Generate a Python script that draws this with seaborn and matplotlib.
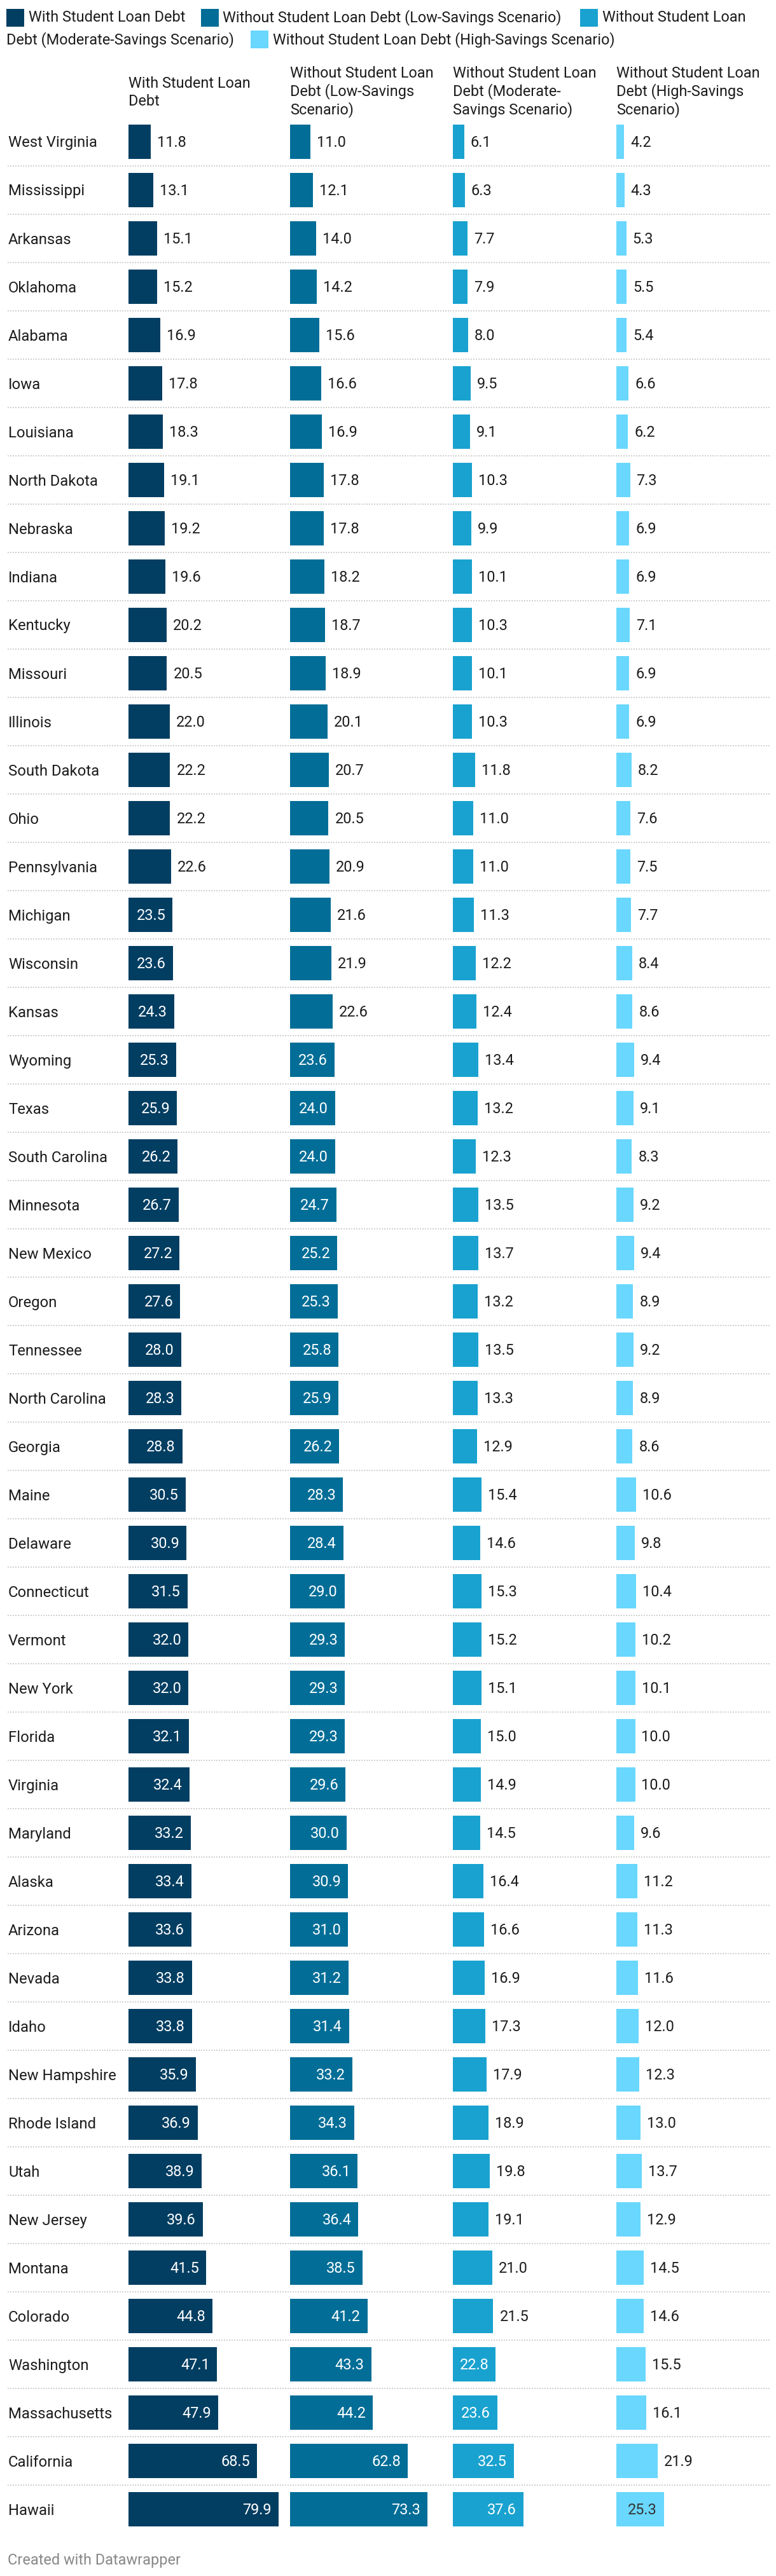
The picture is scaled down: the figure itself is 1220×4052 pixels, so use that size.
import matplotlib
matplotlib.use("Agg")
import matplotlib.pyplot as plt
import seaborn as sns
import pandas as pd
import numpy as np
from matplotlib.patches import Rectangle

sns.set_theme(style="white")
plt.rcParams['font.family'] = ['Roboto', 'DejaVu Sans']

states = ["West Virginia", "Mississippi", "Arkansas", "Oklahoma", "Alabama", "Iowa",
          "Louisiana", "North Dakota", "Nebraska", "Indiana", "Kentucky", "Missouri",
          "Illinois", "South Dakota", "Ohio", "Pennsylvania", "Michigan", "Wisconsin",
          "Kansas", "Wyoming", "Texas", "South Carolina", "Minnesota", "New Mexico",
          "Oregon", "Tennessee", "North Carolina", "Georgia", "Maine", "Delaware",
          "Connecticut", "Vermont", "New York", "Florida", "Virginia", "Maryland",
          "Alaska", "Arizona", "Nevada", "Idaho", "New Hampshire", "Rhode Island",
          "Utah", "New Jersey", "Montana", "Colorado", "Washington", "Massachusetts",
          "California", "Hawaii"]

with_debt = [11.8, 13.1, 15.1, 15.2, 16.9, 17.8, 18.3, 19.1, 19.2, 19.6, 20.2, 20.5,
             22.0, 22.2, 22.2, 22.6, 23.5, 23.6, 24.3, 25.3, 25.9, 26.2, 26.7, 27.2,
             27.6, 28.0, 28.3, 28.8, 30.5, 30.9, 31.5, 32.0, 32.0, 32.1, 32.4, 33.2,
             33.4, 33.6, 33.8, 33.8, 35.9, 36.9, 38.9, 39.6, 41.5, 44.8, 47.1, 47.9,
             68.5, 79.9]
low_savings = [11.0, 12.1, 14.0, 14.2, 15.6, 16.6, 16.9, 17.8, 17.8, 18.2, 18.7, 18.9,
               20.1, 20.7, 20.5, 20.9, 21.6, 21.9, 22.6, 23.6, 24.0, 24.0, 24.7, 25.2,
               25.3, 25.8, 25.9, 26.2, 28.3, 28.4, 29.0, 29.3, 29.3, 29.3, 29.6, 30.0,
               30.9, 31.0, 31.2, 31.4, 33.2, 34.3, 36.1, 36.4, 38.5, 41.2, 43.3, 44.2,
               62.8, 73.3]
moderate_savings = [6.1, 6.3, 7.7, 7.9, 8.0, 9.5, 9.1, 10.3, 9.9, 10.1, 10.3, 10.1,
                    10.3, 11.8, 11.0, 11.0, 11.3, 12.2, 12.4, 13.4, 13.2, 12.3, 13.5, 13.7,
                    13.2, 13.5, 13.3, 12.9, 15.4, 14.6, 15.3, 15.2, 15.1, 15.0, 14.9, 14.5,
                    16.4, 16.6, 16.9, 17.3, 17.9, 18.9, 19.8, 19.1, 21.0, 21.5, 22.8, 23.6,
                    32.5, 37.6]
high_savings = [4.2, 4.3, 5.3, 5.5, 5.4, 6.6, 6.2, 7.3, 6.9, 6.9, 7.1, 6.9,
                6.9, 8.2, 7.6, 7.5, 7.7, 8.4, 8.6, 9.4, 9.1, 8.3, 9.2, 9.4,
                8.9, 9.2, 8.9, 8.6, 10.6, 9.8, 10.4, 10.2, 10.1, 10.0, 10.0, 9.6,
                11.2, 11.3, 11.6, 12.0, 12.3, 13.0, 13.7, 12.9, 14.5, 14.6, 15.5, 16.1,
                21.9, 25.3]

series_names = ["With Student Loan Debt",
                "Without Student Loan Debt (Low-Savings Scenario)",
                "Without Student Loan Debt (Moderate-Savings Scenario)",
                "Without Student Loan Debt (High-Savings Scenario)"]
header_lines = [["With Student Loan", "Debt"],
                ["Without Student Loan", "Debt (Low-Savings", "Scenario)"],
                ["Without Student Loan", "Debt (Moderate-", "Savings Scenario)"],
                ["Without Student Loan", "Debt (High-Savings", "Scenario)"]]
colors = ["#023e62", "#026e97", "#19a2cf", "#69d7fe"]
inside_text = ["white", "white", "white", "#333333"]

df = pd.DataFrame({"state": states, series_names[0]: with_debt,
                   series_names[1]: low_savings, series_names[2]: moderate_savings,
                   series_names[3]: high_savings})

W, H = 1220, 4052
DPI = 100
fig = plt.figure(figsize=(W / DPI, H / DPI), dpi=DPI)
fig.patch.set_facecolor("white")

PX_PER_UNIT = 2.95
top_px, bot_px = 185, 3985
n = len(states)

def fy(y):  # top-origin px -> fig fraction
    return 1 - y / H

def fx(x):
    return x / W

TXT = "#1d1d1d"
FS = 16.9   # pt
FS_STATE = 17.2

# background axes for separators and state names
bg = fig.add_axes([0, fy(bot_px), 1, (bot_px - top_px) / H])
bg.set_xlim(0, W)
bg.set_ylim(n - 0.5, -0.5)
bg.axis("off")
bg.hlines([i + 0.5 for i in range(n - 1)], 12, 1210, colors="#d0d0d0",
          linestyles=(0, (1, 1)), linewidth=1.44)
for i, s in enumerate(states):
    bg.annotate(s, (13, i), xytext=(0, -8.5), textcoords="offset pixels",
                ha="left", va="baseline", fontsize=FS_STATE, color=TXT)

col_x = [202, 456, 712, 969]
col_w = 250
for k, name in enumerate(series_names):
    ax = fig.add_axes([fx(col_x[k]), fy(bot_px), col_w / W, (bot_px - top_px) / H])
    sns.barplot(data=df, x=name, y="state", order=states, orient="h",
                color=colors[k], saturation=1, width=54 / 76, linewidth=0,
                ax=ax)
    ax.set_xlim(0, col_w / PX_PER_UNIT)
    ax.set_ylim(n - 0.5, -0.5)
    ax.axis("off")
    vals = df[name].values
    for i, v in enumerate(vals):
        if v >= 22.7:
            ax.annotate(f"{v:.1f}", (v, i), xytext=(-11, -8.4), textcoords="offset pixels",
                        ha="right", va="baseline", fontsize=FS, color=inside_text[k])
        else:
            ax.annotate(f"{v:.1f}", (v, i), xytext=(10, -8.4), textcoords="offset pixels",
                        ha="left", va="baseline", fontsize=FS, color=TXT)
    # headers
    lines = header_lines[k]
    last_base = 166 if len(lines) == 2 else 179
    for j, ln in enumerate(lines):
        base = last_base - (len(lines) - 1 - j) * 28.3
        fig.text(fx(col_x[k]), fy(base), ln, ha="left", va="baseline",
                 fontsize=FS, color=TXT)

# legend
def swatch(x0, y0, c):
    fig.patches.append(Rectangle((fx(x0), fy(y0 + 28)), 28 / W, 28 / H,
                                 transform=fig.transFigure, facecolor=c,
                                 edgecolor="none"))

swatch(10, 14, colors[0])
fig.text(fx(45), fy(34.3), series_names[0], ha="left", va="baseline", fontsize=FS, color=TXT)
swatch(316, 14, colors[1])
fig.text(fx(350), fy(34.3), series_names[1], ha="left", va="baseline", fontsize=FS, color=TXT)
swatch(912, 14, colors[2])
fig.text(fx(947), fy(34.3), "Without Student Loan", ha="left", va="baseline", fontsize=FS, color=TXT)
fig.text(fx(10), fy(69.5), "Debt (Moderate-Savings Scenario)", ha="left", va="baseline",
         fontsize=FS, color=TXT)
swatch(394, 48, colors[3])
fig.text(fx(429), fy(69.5), series_names[3], ha="left", va="baseline", fontsize=FS, color=TXT)

# footer
fig.text(fx(12), fy(4034), "Created with Datawrapper", ha="left", va="baseline",
         fontsize=FS, color="#888888")

fig.savefig("out.png", dpi=DPI, facecolor="white")
